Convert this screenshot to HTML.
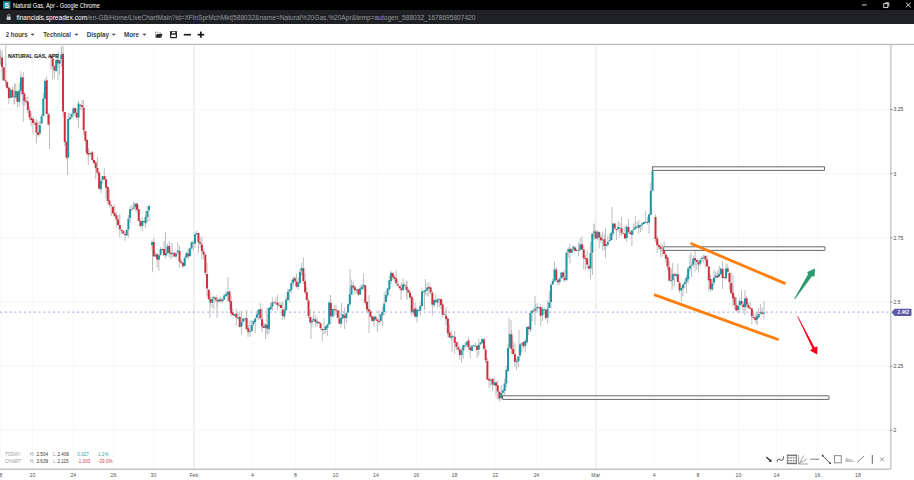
<!DOCTYPE html>
<html><head><meta charset="utf-8"><style>
html,body{margin:0;padding:0;width:914px;height:480px;overflow:hidden;background:#fff;font-family:"Liberation Sans",sans-serif}
#title{position:absolute;left:0;top:0;width:914px;height:10px;background:#000}
#addr{position:absolute;left:0;top:10px;width:914px;height:14.4px;background:#202124}
#tool{position:absolute;left:0;top:24px;width:914px;height:20px;background:#fff}
.t{position:absolute;white-space:nowrap}
svg{position:absolute;left:0;top:0}
</style></head><body>
<div id="title"></div>
<div id="addr"></div>
<div id="tool"></div>
<svg width="914" height="480" viewBox="0 0 914 480">
<rect x="3" y="1.3" width="7.5" height="7.6" fill="#1b8c9a"/>
<text x="6.75" y="7.8" font-family="Liberation Sans" font-weight="bold" font-size="7" fill="#fff" text-anchor="middle">S</text>
<text x="12.9" y="7.9" font-family="Liberation Sans" font-size="6.3" fill="#fff" textLength="86.9" lengthAdjust="spacingAndGlyphs">Natural Gas, Apr - Google Chrome</text>
<g fill="#e6e6e6"><rect x="861.9" y="4.5" width="4.8" height="0.9"/></g>
<g stroke="#e6e6e6" stroke-width="0.9" fill="none"><rect x="883.8" y="3.6" width="4" height="4"/><path d="M885.2 2.8h3.6v3.6"/><path d="M905.8 2.6l5 4.8M910.8 2.6l-5 4.8"/></g>
<g fill="#c8cacc"><rect x="6.7" y="16.6" width="4" height="3.5" rx="0.3"/><path d="M7.6 16.6v-1.1a1.1 1.1 0 0 1 2.2 0v1.1" stroke="#c8cacc" stroke-width="0.7" fill="none"/></g>
<text x="16.4" y="19.6" font-family="Liberation Sans" font-size="6.6" fill="#92979c"><tspan fill="#ffffff">financials.spreadex.com</tspan>/en-GB/Home/LiveChartMain?id=XFinSprMchMkt|588032&amp;name=Natural%20Gas,%20Apr&amp;temp=autogen_588032_1678695807420</text>
<g font-family="Liberation Sans" font-weight="bold" font-size="6.7" fill="#3d3d3d">
<text x="5.7" y="37" textLength="21.9" lengthAdjust="spacingAndGlyphs">2 hours</text><text x="43.3" y="37" textLength="27.6" lengthAdjust="spacingAndGlyphs">Technical</text><text x="86.7" y="37" textLength="22.3" lengthAdjust="spacingAndGlyphs">Display</text><text x="124" y="37" textLength="15" lengthAdjust="spacingAndGlyphs">More</text>
</g>
<g fill="#444"><path d="M30.5 33.8h4.2l-2.1 2z"/><path d="M74.3 33.8h4.2l-2.1 2z"/><path d="M111.6 33.8h4.2l-2.1 2z"/><path d="M142.3 33.8h4.2l-2.1 2z"/></g>
<path d="M155.6 37.4V32.1h2.2l0.7 0.8h2.5v1.1" fill="none" stroke="#8a8a8a" stroke-width="0.7"/>
<path d="M156.7 34.0h5.8l-1.3 3.7h-5.6z" fill="#262626"/>
<rect x="170" y="31" width="7" height="7.2" rx="0.9" fill="#262626"/>
<rect x="172" y="31.7" width="3.2" height="1.6" fill="#fff"/>
<rect x="171.2" y="34.7" width="4.6" height="2.3" fill="#fff"/>
<rect x="183.8" y="33.9" width="7.2" height="1.6" fill="#111"/>
<rect x="197.6" y="33.9" width="6.6" height="1.6" fill="#111"/><rect x="200.1" y="31.6" width="1.6" height="6.2" fill="#111"/>
<rect x="0" y="43.8" width="914" height="1.3" fill="#bababa"/>
<line x1="1" y1="45" x2="1" y2="469" stroke="#f8f8f8" stroke-width="1"/><line x1="32.5" y1="45" x2="32.5" y2="469" stroke="#f8f8f8" stroke-width="1"/><line x1="73.3" y1="45" x2="73.3" y2="469" stroke="#f8f8f8" stroke-width="1"/><line x1="113.5" y1="45" x2="113.5" y2="469" stroke="#f8f8f8" stroke-width="1"/><line x1="153.5" y1="45" x2="153.5" y2="469" stroke="#f8f8f8" stroke-width="1"/><line x1="193.9" y1="45" x2="193.9" y2="469" stroke="#eeeeee" stroke-width="1.8"/><line x1="252.5" y1="45" x2="252.5" y2="469" stroke="#f8f8f8" stroke-width="1"/><line x1="295.5" y1="45" x2="295.5" y2="469" stroke="#f8f8f8" stroke-width="1"/><line x1="335.5" y1="45" x2="335.5" y2="469" stroke="#f8f8f8" stroke-width="1"/><line x1="376" y1="45" x2="376" y2="469" stroke="#f8f8f8" stroke-width="1"/><line x1="416.3" y1="45" x2="416.3" y2="469" stroke="#f8f8f8" stroke-width="1"/><line x1="454.5" y1="45" x2="454.5" y2="469" stroke="#f8f8f8" stroke-width="1"/><line x1="495.3" y1="45" x2="495.3" y2="469" stroke="#f8f8f8" stroke-width="1"/><line x1="536.3" y1="45" x2="536.3" y2="469" stroke="#f8f8f8" stroke-width="1"/><line x1="595.8" y1="45" x2="595.8" y2="469" stroke="#eeeeee" stroke-width="1.8"/><line x1="654.3" y1="45" x2="654.3" y2="469" stroke="#f8f8f8" stroke-width="1"/><line x1="698" y1="45" x2="698" y2="469" stroke="#f8f8f8" stroke-width="1"/><line x1="738.4" y1="45" x2="738.4" y2="469" stroke="#f8f8f8" stroke-width="1"/><line x1="776.5" y1="45" x2="776.5" y2="469" stroke="#f8f8f8" stroke-width="1"/><line x1="817.5" y1="45" x2="817.5" y2="469" stroke="#f8f8f8" stroke-width="1"/><line x1="858" y1="45" x2="858" y2="469" stroke="#f8f8f8" stroke-width="1"/><line x1="0" y1="109.5" x2="890" y2="109.5" stroke="#f7f7f7" stroke-width="1.5"/><line x1="0" y1="173.7" x2="890" y2="173.7" stroke="#f7f7f7" stroke-width="1.5"/><line x1="0" y1="237.8" x2="890" y2="237.8" stroke="#f7f7f7" stroke-width="1.5"/><line x1="0" y1="302" x2="890" y2="302" stroke="#f7f7f7" stroke-width="1.5"/><line x1="0" y1="366.2" x2="890" y2="366.2" stroke="#f7f7f7" stroke-width="1.5"/><line x1="0" y1="430.3" x2="890" y2="430.3" stroke="#f7f7f7" stroke-width="1.5"/>
<line x1="0" y1="469.3" x2="890.5" y2="469.3" stroke="#c4c4c4" stroke-width="1.4"/>
<line x1="890.8" y1="44.5" x2="890.8" y2="469" stroke="#c2c2c2" stroke-width="1.3"/>
<g font-family="Liberation Sans" font-size="5.2" fill="#555"><text x="1" y="477" text-anchor="middle">8</text><text x="32.5" y="477" text-anchor="middle">20</text><text x="73.3" y="477" text-anchor="middle">24</text><text x="113.5" y="477" text-anchor="middle">26</text><text x="153.5" y="477" text-anchor="middle">30</text><text x="193.9" y="477" text-anchor="middle">Feb</text><text x="252.5" y="477" text-anchor="middle">4</text><text x="295.5" y="477" text-anchor="middle">8</text><text x="335.5" y="477" text-anchor="middle">10</text><text x="376" y="477" text-anchor="middle">14</text><text x="416.3" y="477" text-anchor="middle">16</text><text x="454.5" y="477" text-anchor="middle">18</text><text x="495.3" y="477" text-anchor="middle">22</text><text x="536.3" y="477" text-anchor="middle">24</text><text x="595.8" y="477" text-anchor="middle">Mar</text><text x="654.3" y="477" text-anchor="middle">4</text><text x="698" y="477" text-anchor="middle">8</text><text x="738.4" y="477" text-anchor="middle">10</text><text x="776.5" y="477" text-anchor="middle">14</text><text x="817.5" y="477" text-anchor="middle">16</text><text x="858" y="477" text-anchor="middle">18</text></g>
<g font-family="Liberation Sans" font-size="5" fill="#444"><line x1="890" y1="109.5" x2="893" y2="109.5" stroke="#777" stroke-width="0.6"/><text x="893.5" y="111.3">3.25</text><line x1="890" y1="173.7" x2="893" y2="173.7" stroke="#777" stroke-width="0.6"/><text x="893.5" y="175.5">3</text><line x1="890" y1="237.8" x2="893" y2="237.8" stroke="#777" stroke-width="0.6"/><text x="893.5" y="239.60000000000002">2.75</text><line x1="890" y1="302" x2="893" y2="302" stroke="#777" stroke-width="0.6"/><text x="893.5" y="303.8">2.5</text><line x1="890" y1="366.2" x2="893" y2="366.2" stroke="#777" stroke-width="0.6"/><text x="893.5" y="368.0">2.25</text><line x1="890" y1="430.3" x2="893" y2="430.3" stroke="#777" stroke-width="0.6"/><text x="893.5" y="432.1">2</text></g>
<line x1="0" y1="312.1" x2="890" y2="312.1" stroke="#b4b2e4" stroke-width="1.1" stroke-dasharray="2 2.817"/>
<path d="M891.5 312.3l3.2 -3.6h16a0.8 0.8 0 0 1 0.8 0.8v5.6a0.8 0.8 0 0 1 -0.8 0.8h-16z" fill="#5d5aa8"/>
<text x="897.6" y="314.4" font-family="Liberation Sans" font-weight="bold" font-size="4.6" fill="#fff">2.462</text>
<path d="M0.30 49.3V57.4M2.02 55.2V73.0M3.74 67.3V80.8M5.46 79.9V86.5M7.18 81.5V89.6M8.90 87.5V104.2M10.62 88.4V98.1M12.34 86.8V98.1M14.06 91.5V104.9M15.78 83.1V98.7M17.50 91.1V107.8M19.22 82.5V106.9M20.94 71.3V94.7M22.66 76.6V104.9M24.38 91.7V106.1M26.10 97.1V103.7M27.82 96.5V112.9M29.54 106.4V120.5M31.26 112.7V126.0M32.98 116.4V134.1M34.70 119.7V124.2M36.42 118.5V143.5M38.14 121.3V137.1M39.86 121.0V135.6M41.58 113.7V123.7M43.30 92.4V116.5M45.02 78.9V99.5M46.74 76.3V114.6M48.46 112.6V125.5M51.00 53.9V69.2M52.72 55.5V67.8M54.44 65.1V78.4M56.16 54.0V72.1M57.88 57.0V68.3M59.60 59.1V74.8M61.32 46.4V67.0M63.04 45.7V116.7M64.76 111.6V146.0M66.48 141.3V159.0M68.20 113.0V157.6M69.92 112.6V119.9M71.64 113.4V118.8M73.36 106.5V116.2M75.08 107.6V116.8M76.80 108.8V119.4M78.52 101.1V128.5M80.24 103.7V110.0M81.96 100.2V109.6M83.68 107.7V135.3M85.40 130.6V151.7M87.12 139.1V156.2M88.84 148.0V157.1M90.56 151.7V155.5M92.28 150.8V161.5M94.00 160.0V163.2M95.72 161.1V179.3M97.44 156.9V175.4M99.16 171.2V189.3M100.88 179.2V193.2M102.60 176.3V183.8M104.32 168.0V179.9M106.04 176.2V198.7M107.76 186.0V204.1M109.48 189.6V207.8M111.20 204.5V216.2M112.92 206.7V214.2M114.64 204.9V217.0M116.36 211.5V227.6M118.08 214.5V225.9M119.80 214.1V237.3M121.52 228.9V233.9M123.24 229.4V233.4M124.96 232.4V240.9M126.68 228.9V235.6M128.40 214.8V237.6M130.12 206.2V223.1M131.84 204.4V209.8M133.56 201.6V209.0M135.28 202.8V211.2M137.00 203.6V212.4M138.72 205.2V221.5M140.44 219.4V227.9M142.16 216.9V231.0M143.88 220.6V225.8M145.60 210.7V228.2M147.32 205.9V222.1M149.04 204.6V221.2M152.00 240.2V249.8M153.72 237.9V257.3M155.44 252.3V257.1M157.16 252.8V267.5M158.88 254.2V270.8M160.60 247.0V255.8M162.32 248.4V252.1M164.04 240.9V256.5M165.76 248.0V258.5M167.48 243.7V253.8M169.20 241.1V257.0M170.92 250.5V259.2M172.64 252.3V254.2M174.36 252.2V257.0M176.08 252.4V258.6M177.80 242.6V254.3M179.52 246.0V267.6M181.24 259.6V263.1M182.96 262.3V268.2M184.68 256.0V266.4M186.40 251.2V258.2M188.12 248.4V259.4M189.84 247.6V256.2M191.56 241.8V249.6M193.28 240.6V250.6M195.00 232.4V247.6M196.72 230.5V234.4M198.44 233.0V253.3M200.16 237.2V247.7M201.88 236.4V259.2M203.60 248.5V259.4M205.32 253.3V275.3M207.04 263.0V296.3M208.76 289.7V300.1M210.48 297.2V305.6M212.20 295.7V307.8M213.92 295.6V309.3M215.64 296.7V301.9M217.36 297.5V306.4M219.08 297.4V303.0M220.80 296.4V301.7M222.52 298.1V302.8M224.24 293.5V300.1M225.96 291.2V296.1M227.68 291.4V301.0M229.40 290.6V309.8M231.12 295.2V316.4M232.84 308.4V316.1M234.56 313.6V315.9M236.28 308.7V325.5M238.00 312.6V318.9M239.72 311.1V327.1M241.44 311.1V334.4M243.16 318.1V321.8M244.88 318.0V321.8M246.60 309.9V329.2M248.32 324.6V333.7M250.04 320.1V336.7M251.76 320.0V331.4M253.48 320.5V326.3M255.20 316.9V333.0M256.92 311.2V318.4M258.64 309.6V320.4M260.36 303.3V319.4M262.08 308.2V328.4M263.80 322.2V327.9M265.52 323.8V339.0M267.24 314.0V333.6M268.96 307.6V334.2M270.68 302.4V309.6M272.40 297.5V310.6M274.12 301.0V303.0M275.84 297.4V304.8M277.56 294.7V310.1M279.28 302.4V306.8M281.00 301.9V308.1M282.72 301.4V320.0M284.44 307.0V319.0M286.16 297.1V310.2M287.88 288.7V300.6M289.60 289.4V302.5M291.32 280.0V292.9M293.04 276.7V286.0M294.76 276.1V281.6M296.48 273.4V287.6M298.20 277.6V289.6M299.92 268.7V283.1M301.64 263.0V275.9M303.36 257.3V283.9M305.08 273.2V294.2M306.80 287.3V301.0M308.52 298.5V318.1M310.24 309.1V324.2M311.96 316.7V327.5M313.68 311.1V321.4M315.40 315.4V326.9M317.12 317.6V326.2M318.84 321.4V324.3M320.56 322.0V330.4M322.28 328.7V340.9M324.00 318.3V334.5M325.72 326.2V333.8M327.44 323.4V335.7M329.16 301.0V324.9M330.88 300.0V324.1M332.60 308.9V317.6M334.32 305.1V315.8M336.04 304.8V314.6M337.76 310.0V319.3M339.48 310.4V324.3M341.20 309.7V327.5M342.92 314.2V319.2M344.64 307.6V329.0M346.36 311.3V323.3M348.08 303.8V313.1M349.80 288.2V306.1M351.52 279.5V294.5M353.24 281.6V289.4M354.96 285.7V294.2M356.68 289.6V293.1M358.40 289.1V296.0M360.12 285.3V295.0M361.84 284.2V290.7M363.56 273.7V289.8M365.28 285.2V304.7M367.00 300.5V313.3M368.72 307.7V312.9M370.44 309.5V317.3M372.16 315.6V322.3M373.88 316.5V326.9M375.60 315.5V319.4M377.32 319.4V331.9M379.04 310.1V324.7M380.76 313.4V323.2M382.48 307.0V326.2M384.20 292.5V315.1M385.92 291.1V303.0M387.64 288.1V297.8M389.36 275.2V290.7M391.08 270.8V283.9M392.80 271.8V279.8M394.52 274.6V281.6M396.24 270.4V286.3M397.96 281.2V285.6M399.68 286.1V290.0M401.40 282.2V292.4M403.12 278.2V290.3M404.84 282.7V287.8M406.56 280.7V297.9M408.28 288.4V292.9M410.00 289.6V299.3M411.72 295.7V315.7M413.44 298.5V314.7M415.16 302.6V317.9M416.88 307.3V322.8M418.60 308.9V311.5M420.32 302.1V315.4M422.04 288.4V306.5M423.76 290.4V292.8M425.48 279.0V295.3M427.20 283.4V296.3M428.92 282.1V296.6M430.64 285.6V294.2M432.36 290.7V315.6M434.08 299.0V306.8M435.80 294.5V303.4M437.52 297.9V307.4M439.24 298.5V307.2M440.96 299.0V308.9M442.68 300.6V317.2M444.40 313.7V314.9M446.12 309.7V320.4M447.84 317.6V337.3M449.56 324.6V337.5M451.28 330.3V340.5M453.00 335.3V336.9M454.72 330.7V353.7M456.44 342.3V349.7M458.16 341.5V351.4M459.88 345.5V359.9M461.60 347.7V362.9M463.32 344.6V358.5M465.04 342.5V347.9M466.76 341.8V347.0M468.48 337.5V350.1M470.20 344.8V358.0M471.92 344.7V350.9M473.64 344.8V346.8M475.36 341.8V347.0M477.08 344.9V358.0M478.80 338.7V355.5M480.52 341.8V345.3M482.24 337.9V343.6M483.96 337.9V350.6M485.68 345.7V363.0M487.40 357.9V380.0M489.12 378.0V388.4M490.84 376.9V386.0M492.56 378.0V390.5M494.28 377.4V386.1M496.00 381.1V396.7M497.72 380.3V399.4M499.44 391.2V401.6M501.16 385.1V400.1M502.88 389.0V395.7M504.60 378.5V394.9M506.32 365.9V387.5M508.04 343.8V371.9M509.76 333.5V348.3M511.48 330.5V354.0M513.20 341.0V354.8M514.92 343.3V366.7M516.64 358.3V370.2M518.36 356.1V367.2M520.08 343.0V356.5M521.80 342.4V352.4M523.52 341.6V348.7M525.24 338.6V351.9M526.96 325.9V344.2M528.68 325.4V335.0M530.40 310.6V332.3M532.12 309.8V321.2M533.84 307.5V312.0M535.56 303.7V310.6M537.28 303.1V313.2M539.00 306.5V309.3M540.72 304.3V326.7M542.44 307.0V321.2M544.16 308.4V313.9M545.88 309.8V319.9M547.60 300.5V323.5M549.32 291.4V308.0M551.04 283.0V308.0M552.76 278.5V284.6M554.48 261.5V281.4M556.20 267.0V282.0M557.92 278.8V285.3M559.64 277.3V284.4M561.36 271.6V278.3M563.08 271.4V281.0M564.80 269.4V282.0M566.52 252.4V280.2M568.24 246.7V257.8M569.96 243.7V263.7M571.68 249.0V252.7M573.40 245.4V250.6M575.12 247.0V250.9M576.84 248.8V251.4M578.56 242.3V255.8M580.28 238.4V250.8M582.00 236.3V249.5M583.72 245.5V269.3M585.44 255.1V269.6M587.16 250.4V268.4M588.88 263.9V270.1M590.60 242.0V279.4M592.32 233.4V254.8M594.04 223.5V237.7M595.76 229.9V238.9M597.48 230.2V239.8M599.20 230.9V248.6M600.92 234.4V242.7M602.64 231.5V250.9M604.36 234.3V249.9M606.08 244.3V246.1M607.80 235.9V246.7M609.52 234.3V241.8M611.24 232.8V240.2M612.96 222.7V235.8M614.68 223.5V228.4M616.40 229.1V240.1M618.12 220.9V231.7M619.84 222.8V236.4M621.56 217.3V235.7M623.28 232.4V233.6M625.00 225.8V239.2M626.72 224.8V241.9M628.44 218.9V233.6M630.16 230.6V233.9M631.88 230.6V246.1M633.60 223.2V234.3M635.32 215.8V229.3M637.04 221.7V227.7M638.76 220.0V234.0M640.48 224.6V232.2M642.20 223.2V229.8M643.92 222.0V224.1M645.64 210.8V223.3M647.36 216.7V224.7M649.08 212.9V233.5M650.80 182.7V215.3M652.52 165.7V191.3M655.50 214.1V242.1M657.22 235.5V253.2M658.94 243.3V249.9M660.66 243.5V257.1M662.38 244.7V256.5M664.10 241.5V254.1M665.82 253.5V262.4M667.54 256.5V270.5M669.26 260.9V281.9M670.98 269.2V282.3M672.70 262.9V286.2M674.42 272.7V286.5M676.14 273.2V277.6M677.86 263.6V282.4M679.58 281.2V293.2M681.30 285.9V301.5M683.02 284.0V296.3M684.74 279.2V288.3M686.46 274.8V293.4M688.18 266.5V283.3M689.90 255.1V271.6M691.62 262.3V277.1M693.34 255.7V266.4M695.06 250.0V271.3M696.78 259.1V269.9M698.50 260.3V272.7M700.22 258.4V266.5M701.94 255.9V262.1M703.66 254.2V262.9M705.38 254.9V267.5M707.10 255.6V266.8M708.82 265.5V291.3M710.54 273.9V291.4M712.26 278.4V290.8M713.98 269.7V285.1M715.70 271.6V279.1M717.42 270.6V278.1M719.14 265.8V276.8M720.86 268.4V274.4M722.58 261.1V289.0M724.30 276.8V279.1M726.02 263.5V279.7M727.74 264.4V273.3M729.46 272.5V290.2M731.18 272.1V294.6M732.90 284.8V306.2M734.62 294.3V309.1M736.34 297.1V311.5M738.06 304.6V311.9M739.78 297.9V313.2M741.50 289.9V305.7M743.22 301.9V311.0M744.94 297.9V315.1M746.66 296.2V307.7M748.38 302.6V308.7M750.10 301.6V308.7M751.82 307.9V324.3M753.54 311.1V319.0M755.26 313.7V322.5M756.98 313.2V324.6M758.70 308.1V317.8M760.42 304.0V314.9M762.14 307.8V314.6M763.86 312.0V318.5M5.80 45.7V82.5M2.20 50.7V80.7M0.50 51.0V65.0M23.30 72.0V122.0M14.50 84.0V104.0M49.50 114.0V149.0M52.70 63.6V80.0M58.00 51.0V80.0M61.50 46.5V60.0M67.50 119.0V175.0M83.50 100.0V130.0M88.30 150.0V165.0M152.50 245.0V272.0M165.50 232.0V258.0M172.00 243.0V258.0M210.00 293.0V318.0M217.00 295.0V318.0M228.00 277.0V300.0M248.00 327.0V337.0M262.00 310.0V332.0M267.00 308.0V335.0M311.00 319.0V339.0M330.50 295.0V317.0M341.50 303.0V320.0M350.00 269.0V300.0M369.00 295.0V333.0M401.00 285.0V300.0M407.00 281.0V300.0M424.50 290.0V310.0M446.00 307.0V325.0M452.00 334.0V352.0M509.00 318.0V348.0M511.00 320.0V350.0M519.00 330.0V360.0M535.00 296.0V325.0M550.00 290.0V303.0M592.50 255.0V275.0M594.00 224.0V240.0M605.50 228.0V258.0M612.00 207.0V240.0M672.00 268.0V290.0M691.00 252.0V270.0M733.00 275.0V300.0M745.00 290.0V310.0M764.00 301.0V313.0M757.00 312.0V325.0" stroke="#bcbfc0" stroke-width="1" fill="none"/><path d="M-0.70 57.3h2.0v0.8h-2.0zM1.02 57.7h2.0v9.3h-2.0zM2.74 67.3h2.0v13.0h-2.0zM4.46 80.4h2.0v1.1h-2.0zM6.18 82.0h2.0v6.1h-2.0zM7.90 87.5h2.0v10.7h-2.0zM11.34 89.8h2.0v7.3h-2.0zM16.50 91.6h2.0v10.1h-2.0zM21.66 77.6h2.0v16.3h-2.0zM23.38 93.7h2.0v7.4h-2.0zM25.10 101.1h2.0v0.8h-2.0zM26.82 101.5h2.0v8.4h-2.0zM28.54 110.4h2.0v7.1h-2.0zM30.26 117.7h2.0v2.3h-2.0zM31.98 118.9h2.0v4.2h-2.0zM33.70 123.7h2.0v0.8h-2.0zM35.42 122.5h2.0v10.0h-2.0zM37.14 132.3h2.0v2.8h-2.0zM45.74 80.3h2.0v33.8h-2.0zM47.46 114.6h2.0v9.8h-2.0zM50.00 55.9h2.0v2.3h-2.0zM51.72 58.5h2.0v7.8h-2.0zM53.44 66.6h2.0v3.8h-2.0zM56.88 60.0h2.0v3.2h-2.0zM62.04 53.7h2.0v57.9h-2.0zM63.76 112.1h2.0v29.9h-2.0zM65.48 141.8h2.0v15.7h-2.0zM74.08 108.1h2.0v4.7h-2.0zM75.80 112.8h2.0v4.6h-2.0zM79.24 104.7h2.0v0.8h-2.0zM80.96 105.2h2.0v1.8h-2.0zM82.68 107.7h2.0v22.6h-2.0zM84.40 131.1h2.0v9.6h-2.0zM86.12 140.1h2.0v13.6h-2.0zM87.84 153.0h2.0v1.6h-2.0zM91.28 152.3h2.0v7.7h-2.0zM93.00 160.0h2.0v3.3h-2.0zM94.72 162.6h2.0v5.7h-2.0zM96.44 167.9h2.0v4.9h-2.0zM98.16 172.7h2.0v16.1h-2.0zM103.32 176.0h2.0v3.5h-2.0zM105.04 179.2h2.0v8.5h-2.0zM106.76 187.0h2.0v14.1h-2.0zM108.48 200.6h2.0v4.2h-2.0zM110.20 205.0h2.0v0.8h-2.0zM111.92 206.7h2.0v6.6h-2.0zM113.64 212.9h2.0v3.1h-2.0zM115.36 215.5h2.0v4.1h-2.0zM117.08 219.5h2.0v5.4h-2.0zM118.80 225.1h2.0v4.2h-2.0zM120.52 229.9h2.0v1.0h-2.0zM122.24 230.9h2.0v2.5h-2.0zM123.96 233.9h2.0v1.0h-2.0zM130.84 209.4h2.0v0.8h-2.0zM136.00 203.6h2.0v6.2h-2.0zM137.72 209.2h2.0v11.8h-2.0zM139.44 220.9h2.0v5.0h-2.0zM142.88 221.1h2.0v0.8h-2.0zM152.72 241.9h2.0v14.4h-2.0zM156.16 254.3h2.0v5.2h-2.0zM161.32 248.9h2.0v0.8h-2.0zM163.04 248.9h2.0v6.1h-2.0zM168.20 246.1h2.0v6.8h-2.0zM169.92 253.0h2.0v1.2h-2.0zM173.36 252.7h2.0v3.7h-2.0zM178.52 251.0h2.0v10.5h-2.0zM180.24 261.6h2.0v1.6h-2.0zM181.96 262.8h2.0v3.4h-2.0zM187.12 253.4h2.0v3.0h-2.0zM197.44 233.0h2.0v9.2h-2.0zM199.16 242.2h2.0v1.5h-2.0zM200.88 244.4h2.0v6.8h-2.0zM202.60 251.5h2.0v2.9h-2.0zM204.32 254.8h2.0v18.0h-2.0zM206.04 274.0h2.0v14.4h-2.0zM207.76 289.7h2.0v9.4h-2.0zM209.48 299.2h2.0v3.4h-2.0zM214.64 297.7h2.0v2.1h-2.0zM216.36 300.0h2.0v1.3h-2.0zM219.80 299.4h2.0v1.8h-2.0zM228.40 291.6h2.0v10.2h-2.0zM230.12 301.2h2.0v12.2h-2.0zM231.84 312.4h2.0v2.7h-2.0zM235.28 313.7h2.0v3.8h-2.0zM238.72 317.1h2.0v10.0h-2.0zM245.60 317.9h2.0v11.4h-2.0zM247.32 328.6h2.0v3.1h-2.0zM259.36 309.3h2.0v9.1h-2.0zM261.08 319.2h2.0v7.2h-2.0zM262.80 326.2h2.0v1.7h-2.0zM266.24 325.0h2.0v3.6h-2.0zM273.12 302.5h2.0v0.8h-2.0zM274.84 302.4h2.0v0.8h-2.0zM276.56 302.7h2.0v2.4h-2.0zM280.00 304.9h2.0v3.2h-2.0zM281.72 309.4h2.0v6.6h-2.0zM293.76 278.1h2.0v3.1h-2.0zM295.48 281.4h2.0v5.2h-2.0zM302.36 268.3h2.0v12.6h-2.0zM304.08 281.2h2.0v11.0h-2.0zM305.80 292.3h2.0v7.7h-2.0zM307.52 300.5h2.0v15.5h-2.0zM309.24 317.1h2.0v5.1h-2.0zM314.40 319.4h2.0v2.5h-2.0zM317.84 321.9h2.0v1.4h-2.0zM319.56 323.5h2.0v4.4h-2.0zM321.28 328.7h2.0v1.2h-2.0zM329.88 303.0h2.0v13.1h-2.0zM333.32 309.1h2.0v0.8h-2.0zM335.04 309.8h2.0v0.8h-2.0zM336.76 310.5h2.0v7.3h-2.0zM338.48 318.4h2.0v5.4h-2.0zM343.64 315.6h2.0v2.4h-2.0zM352.24 285.6h2.0v1.9h-2.0zM353.96 287.2h2.0v3.0h-2.0zM357.40 289.1h2.0v5.3h-2.0zM364.28 285.2h2.0v17.5h-2.0zM366.00 302.0h2.0v7.4h-2.0zM367.72 309.2h2.0v2.2h-2.0zM369.44 311.5h2.0v5.3h-2.0zM371.16 316.6h2.0v4.2h-2.0zM374.60 317.0h2.0v2.5h-2.0zM376.32 319.4h2.0v1.5h-2.0zM378.04 321.1h2.0v1.0h-2.0zM391.80 273.3h2.0v4.0h-2.0zM393.52 277.1h2.0v2.0h-2.0zM395.24 278.4h2.0v4.9h-2.0zM396.96 284.2h2.0v1.4h-2.0zM398.68 286.1h2.0v1.9h-2.0zM400.40 288.2h2.0v1.7h-2.0zM403.84 285.2h2.0v0.8h-2.0zM405.56 286.7h2.0v3.3h-2.0zM407.28 289.9h2.0v2.5h-2.0zM409.00 292.6h2.0v4.7h-2.0zM410.72 296.7h2.0v15.0h-2.0zM414.16 308.6h2.0v7.8h-2.0zM427.92 287.1h2.0v1.5h-2.0zM429.64 287.6h2.0v4.6h-2.0zM431.36 292.7h2.0v11.9h-2.0zM434.80 300.5h2.0v1.4h-2.0zM439.96 299.0h2.0v5.9h-2.0zM441.68 304.6h2.0v10.1h-2.0zM445.12 315.7h2.0v3.2h-2.0zM446.84 318.6h2.0v14.6h-2.0zM448.56 332.6h2.0v4.9h-2.0zM453.72 336.7h2.0v6.0h-2.0zM455.44 342.3h2.0v4.8h-2.0zM457.16 347.5h2.0v1.9h-2.0zM458.88 349.5h2.0v5.4h-2.0zM467.48 340.5h2.0v6.6h-2.0zM469.20 347.3h2.0v2.7h-2.0zM476.08 345.9h2.0v4.1h-2.0zM482.96 339.4h2.0v9.3h-2.0zM484.68 349.7h2.0v10.8h-2.0zM486.40 360.9h2.0v18.6h-2.0zM488.12 379.0h2.0v1.4h-2.0zM491.56 379.0h2.0v5.5h-2.0zM495.00 382.6h2.0v3.1h-2.0zM496.72 385.3h2.0v6.1h-2.0zM498.44 391.7h2.0v6.9h-2.0zM510.48 334.5h2.0v14.5h-2.0zM512.20 349.0h2.0v4.9h-2.0zM513.92 354.3h2.0v7.4h-2.0zM522.52 342.1h2.0v4.1h-2.0zM527.68 326.9h2.0v2.1h-2.0zM532.84 310.5h2.0v0.8h-2.0zM538.00 307.0h2.0v0.8h-2.0zM539.72 307.3h2.0v8.4h-2.0zM544.88 309.8h2.0v8.1h-2.0zM555.20 269.5h2.0v10.5h-2.0zM556.92 280.3h2.0v2.0h-2.0zM562.08 272.4h2.0v4.6h-2.0zM563.80 277.4h2.0v2.5h-2.0zM568.96 248.7h2.0v4.1h-2.0zM574.12 247.5h2.0v3.4h-2.0zM575.84 250.3h2.0v0.8h-2.0zM581.00 244.3h2.0v5.2h-2.0zM582.72 249.5h2.0v8.8h-2.0zM584.44 258.1h2.0v0.8h-2.0zM586.16 258.4h2.0v6.0h-2.0zM587.88 265.9h2.0v2.7h-2.0zM594.76 231.4h2.0v7.0h-2.0zM598.20 231.9h2.0v5.7h-2.0zM599.92 237.4h2.0v2.8h-2.0zM603.36 239.3h2.0v6.6h-2.0zM613.68 223.5h2.0v4.9h-2.0zM615.40 229.1h2.0v0.8h-2.0zM620.56 228.3h2.0v4.4h-2.0zM622.28 232.9h2.0v0.8h-2.0zM624.00 233.8h2.0v4.8h-2.0zM627.44 226.9h2.0v5.2h-2.0zM629.16 232.6h2.0v1.3h-2.0zM636.04 226.7h2.0v0.8h-2.0zM646.36 221.7h2.0v1.0h-2.0zM654.50 217.1h2.0v22.0h-2.0zM656.22 238.5h2.0v6.8h-2.0zM657.94 245.3h2.0v1.6h-2.0zM659.66 246.5h2.0v2.6h-2.0zM661.38 249.7h2.0v0.8h-2.0zM663.10 249.5h2.0v4.6h-2.0zM664.82 254.5h2.0v3.9h-2.0zM666.54 257.5h2.0v9.0h-2.0zM668.26 266.9h2.0v13.5h-2.0zM673.42 274.2h2.0v1.3h-2.0zM676.86 274.6h2.0v7.4h-2.0zM678.58 282.7h2.0v7.5h-2.0zM694.06 258.0h2.0v2.3h-2.0zM695.78 260.1h2.0v1.8h-2.0zM697.50 262.3h2.0v2.3h-2.0zM704.38 255.9h2.0v3.6h-2.0zM706.10 259.6h2.0v6.7h-2.0zM707.82 266.5h2.0v13.8h-2.0zM709.54 278.9h2.0v10.0h-2.0zM716.42 275.6h2.0v2.1h-2.0zM721.58 269.1h2.0v8.9h-2.0zM723.30 277.3h2.0v0.8h-2.0zM726.74 268.4h2.0v3.3h-2.0zM728.46 273.0h2.0v9.3h-2.0zM730.18 283.1h2.0v10.0h-2.0zM731.90 292.8h2.0v5.5h-2.0zM733.62 297.3h2.0v7.8h-2.0zM735.34 305.1h2.0v5.4h-2.0zM740.50 300.9h2.0v2.8h-2.0zM742.22 304.4h2.0v2.6h-2.0zM745.66 298.2h2.0v6.5h-2.0zM747.38 305.1h2.0v2.6h-2.0zM749.10 307.6h2.0v1.1h-2.0zM750.82 308.4h2.0v7.9h-2.0zM752.54 317.1h2.0v0.9h-2.0zM754.26 317.7h2.0v2.3h-2.0zM761.14 312.8h2.0v1.3h-2.0z" fill="#cf2f3d"/><path d="M9.62 89.9h2.0v8.2h-2.0zM13.06 96.5h2.0v0.8h-2.0zM14.78 91.1h2.0v6.1h-2.0zM18.22 90.5h2.0v11.5h-2.0zM19.94 77.3h2.0v13.4h-2.0zM38.86 125.0h2.0v8.6h-2.0zM40.58 116.2h2.0v7.6h-2.0zM42.30 98.4h2.0v17.5h-2.0zM44.02 80.9h2.0v17.6h-2.0zM55.16 60.0h2.0v11.1h-2.0zM58.60 60.1h2.0v3.7h-2.0zM60.32 54.4h2.0v4.6h-2.0zM67.20 119.0h2.0v38.6h-2.0zM68.92 117.6h2.0v1.8h-2.0zM70.64 113.9h2.0v3.4h-2.0zM72.36 108.5h2.0v5.2h-2.0zM77.52 103.6h2.0v13.9h-2.0zM89.56 153.2h2.0v0.8h-2.0zM99.88 180.7h2.0v8.5h-2.0zM101.60 176.3h2.0v3.5h-2.0zM125.68 229.9h2.0v5.7h-2.0zM127.40 218.8h2.0v10.8h-2.0zM129.12 209.2h2.0v8.9h-2.0zM132.56 207.6h2.0v1.5h-2.0zM134.28 203.8h2.0v3.4h-2.0zM141.16 220.9h2.0v5.1h-2.0zM144.60 216.7h2.0v6.6h-2.0zM146.32 210.9h2.0v6.2h-2.0zM148.04 206.1h2.0v4.1h-2.0zM151.00 242.2h2.0v2.7h-2.0zM154.44 254.8h2.0v1.8h-2.0zM157.88 255.2h2.0v4.5h-2.0zM159.60 249.0h2.0v5.8h-2.0zM164.76 253.0h2.0v2.5h-2.0zM166.48 246.2h2.0v7.1h-2.0zM171.64 252.8h2.0v0.9h-2.0zM175.08 253.4h2.0v3.2h-2.0zM176.80 250.6h2.0v1.7h-2.0zM183.68 258.0h2.0v8.0h-2.0zM185.40 253.2h2.0v4.5h-2.0zM188.84 248.6h2.0v7.6h-2.0zM190.56 242.3h2.0v6.3h-2.0zM192.28 242.6h2.0v0.8h-2.0zM194.00 234.4h2.0v9.1h-2.0zM195.72 233.0h2.0v1.4h-2.0zM211.20 298.7h2.0v4.1h-2.0zM212.92 297.1h2.0v1.2h-2.0zM218.08 299.4h2.0v2.1h-2.0zM221.52 299.6h2.0v1.6h-2.0zM223.24 295.5h2.0v4.1h-2.0zM224.96 294.2h2.0v2.0h-2.0zM226.68 291.9h2.0v3.0h-2.0zM233.56 314.6h2.0v1.3h-2.0zM237.00 317.6h2.0v0.8h-2.0zM240.44 322.1h2.0v4.3h-2.0zM242.16 318.6h2.0v3.2h-2.0zM243.88 318.5h2.0v0.8h-2.0zM249.04 331.1h2.0v0.8h-2.0zM250.76 325.0h2.0v5.9h-2.0zM252.48 321.0h2.0v3.3h-2.0zM254.20 318.4h2.0v3.6h-2.0zM255.92 314.2h2.0v3.6h-2.0zM257.64 309.6h2.0v4.8h-2.0zM264.52 324.3h2.0v3.7h-2.0zM267.96 308.1h2.0v21.1h-2.0zM269.68 306.4h2.0v3.2h-2.0zM271.40 302.5h2.0v4.1h-2.0zM278.28 304.9h2.0v0.8h-2.0zM283.44 310.0h2.0v6.6h-2.0zM285.16 299.6h2.0v10.6h-2.0zM286.88 291.7h2.0v8.4h-2.0zM288.60 289.4h2.0v2.2h-2.0zM290.32 283.0h2.0v7.0h-2.0zM292.04 279.2h2.0v3.7h-2.0zM297.20 282.6h2.0v4.5h-2.0zM298.92 271.7h2.0v11.5h-2.0zM300.64 268.0h2.0v2.9h-2.0zM310.96 320.7h2.0v1.8h-2.0zM312.68 319.1h2.0v1.3h-2.0zM316.12 321.6h2.0v1.6h-2.0zM323.00 329.3h2.0v0.8h-2.0zM324.72 326.2h2.0v3.6h-2.0zM326.44 324.4h2.0v3.3h-2.0zM328.16 302.5h2.0v21.9h-2.0zM331.60 308.9h2.0v7.7h-2.0zM340.20 317.7h2.0v5.8h-2.0zM341.92 314.2h2.0v4.0h-2.0zM345.36 313.3h2.0v5.0h-2.0zM347.08 304.3h2.0v8.2h-2.0zM348.80 294.2h2.0v10.4h-2.0zM350.52 285.5h2.0v9.0h-2.0zM355.68 289.6h2.0v0.8h-2.0zM359.12 288.3h2.0v6.2h-2.0zM360.84 286.7h2.0v2.4h-2.0zM362.56 284.7h2.0v2.1h-2.0zM372.88 316.5h2.0v4.4h-2.0zM379.76 314.4h2.0v6.3h-2.0zM381.48 312.0h2.0v3.2h-2.0zM383.20 303.5h2.0v8.6h-2.0zM384.92 295.1h2.0v6.9h-2.0zM386.64 288.6h2.0v6.7h-2.0zM388.36 280.2h2.0v9.0h-2.0zM390.08 272.8h2.0v8.1h-2.0zM402.12 284.2h2.0v6.1h-2.0zM412.44 309.5h2.0v3.2h-2.0zM415.88 309.8h2.0v7.0h-2.0zM417.60 309.9h2.0v0.8h-2.0zM419.32 306.1h2.0v4.3h-2.0zM421.04 291.4h2.0v14.6h-2.0zM422.76 290.9h2.0v0.8h-2.0zM424.48 290.0h2.0v1.3h-2.0zM426.20 287.4h2.0v2.9h-2.0zM433.08 300.0h2.0v5.3h-2.0zM436.52 299.4h2.0v3.1h-2.0zM438.24 299.0h2.0v0.8h-2.0zM443.40 314.2h2.0v0.8h-2.0zM450.28 336.3h2.0v1.7h-2.0zM452.00 336.3h2.0v0.8h-2.0zM460.60 350.7h2.0v4.2h-2.0zM462.32 345.1h2.0v5.4h-2.0zM464.04 345.5h2.0v0.8h-2.0zM465.76 341.8h2.0v3.2h-2.0zM470.92 346.2h2.0v4.7h-2.0zM472.64 345.3h2.0v1.0h-2.0zM474.36 345.8h2.0v0.8h-2.0zM477.80 344.7h2.0v4.8h-2.0zM479.52 342.8h2.0v1.5h-2.0zM481.24 338.9h2.0v4.2h-2.0zM489.84 379.9h2.0v0.8h-2.0zM493.28 382.4h2.0v2.7h-2.0zM500.16 393.1h2.0v5.0h-2.0zM501.88 390.5h2.0v2.2h-2.0zM503.60 383.5h2.0v7.4h-2.0zM505.32 369.9h2.0v13.6h-2.0zM507.04 347.8h2.0v23.1h-2.0zM508.76 334.0h2.0v13.2h-2.0zM515.64 361.3h2.0v0.9h-2.0zM517.36 356.6h2.0v4.6h-2.0zM519.08 344.5h2.0v11.0h-2.0zM520.80 343.4h2.0v1.0h-2.0zM524.24 341.1h2.0v4.7h-2.0zM525.96 326.9h2.0v15.3h-2.0zM529.40 313.1h2.0v16.7h-2.0zM531.12 310.8h2.0v2.3h-2.0zM534.56 308.7h2.0v1.9h-2.0zM536.28 307.1h2.0v1.1h-2.0zM541.44 309.5h2.0v5.7h-2.0zM543.16 308.9h2.0v1.0h-2.0zM546.60 308.5h2.0v9.0h-2.0zM548.32 302.4h2.0v5.6h-2.0zM550.04 285.0h2.0v16.9h-2.0zM551.76 281.0h2.0v3.6h-2.0zM553.48 269.5h2.0v11.8h-2.0zM558.64 278.8h2.0v3.1h-2.0zM560.36 272.6h2.0v5.8h-2.0zM565.52 252.4h2.0v27.8h-2.0zM567.24 249.2h2.0v2.6h-2.0zM570.68 249.0h2.0v3.7h-2.0zM572.40 246.4h2.0v2.7h-2.0zM577.56 250.3h2.0v0.8h-2.0zM579.28 244.4h2.0v5.5h-2.0zM589.60 253.0h2.0v15.4h-2.0zM591.32 233.4h2.0v19.4h-2.0zM593.04 231.5h2.0v1.2h-2.0zM596.48 232.2h2.0v6.1h-2.0zM601.64 239.5h2.0v0.8h-2.0zM605.08 244.3h2.0v1.8h-2.0zM606.80 241.9h2.0v2.8h-2.0zM608.52 240.3h2.0v1.0h-2.0zM610.24 232.8h2.0v7.4h-2.0zM611.96 223.7h2.0v9.7h-2.0zM617.12 226.9h2.0v2.2h-2.0zM618.84 227.8h2.0v0.8h-2.0zM625.72 226.8h2.0v11.1h-2.0zM630.88 230.6h2.0v4.5h-2.0zM632.60 229.2h2.0v0.8h-2.0zM634.32 226.8h2.0v2.5h-2.0zM637.76 225.0h2.0v3.0h-2.0zM639.48 225.1h2.0v1.1h-2.0zM641.20 223.2h2.0v1.6h-2.0zM642.92 222.0h2.0v2.1h-2.0zM644.64 221.8h2.0v0.8h-2.0zM648.08 214.4h2.0v8.1h-2.0zM649.80 190.7h2.0v24.1h-2.0zM651.52 170.7h2.0v20.1h-2.0zM669.98 280.2h2.0v0.8h-2.0zM671.70 273.9h2.0v6.3h-2.0zM675.14 274.2h2.0v1.9h-2.0zM680.30 287.9h2.0v2.6h-2.0zM682.02 284.5h2.0v3.8h-2.0zM683.74 282.2h2.0v2.0h-2.0zM685.46 277.8h2.0v4.5h-2.0zM687.18 268.5h2.0v10.8h-2.0zM688.90 266.1h2.0v2.5h-2.0zM690.62 265.3h2.0v0.8h-2.0zM692.34 258.7h2.0v6.1h-2.0zM699.22 259.9h2.0v3.6h-2.0zM700.94 257.9h2.0v1.2h-2.0zM702.66 257.2h2.0v0.8h-2.0zM711.26 283.4h2.0v6.0h-2.0zM712.98 277.7h2.0v5.0h-2.0zM714.70 275.6h2.0v2.0h-2.0zM718.14 273.8h2.0v3.0h-2.0zM719.86 268.4h2.0v5.9h-2.0zM725.02 268.5h2.0v9.7h-2.0zM737.06 306.1h2.0v3.8h-2.0zM738.78 300.9h2.0v4.3h-2.0zM743.94 298.4h2.0v8.6h-2.0zM755.98 316.2h2.0v3.4h-2.0zM757.70 314.1h2.0v3.3h-2.0zM759.42 312.0h2.0v1.0h-2.0zM762.86 312.5h2.0v1.0h-2.0z" fill="#1d95a2"/>
<text x="7.9" y="57.9" font-family="Liberation Sans" font-weight="bold" font-size="5.6" fill="#333" stroke="#333" stroke-width="0.18" textLength="51" lengthAdjust="spacingAndGlyphs">NATURAL GAS, APR</text>
<g fill="#fff" stroke="#555" stroke-width="0.9">
<rect x="652.5" y="166.8" width="172" height="3.6" rx="0.25"/>
<rect x="663.7" y="246.8" width="161.3" height="3.6" rx="0.25"/>
<rect x="502.5" y="395.8" width="326.5" height="3.6" rx="0.25"/>
</g>
<g stroke="#ff7f0e" stroke-width="2.8" stroke-linecap="butt">
<line x1="690.5" y1="243.3" x2="785.5" y2="283.6"/>
<line x1="654" y1="294.6" x2="778.8" y2="339.8"/>
</g>
<path d="M794.2 298.8L807.9 274.5L807.3 272L815 268.4L814.6 276.6L812 276.2L794.9 299.2z" fill="#2e9a70"/>
<path d="M797.8 316L814.5 347.3L817.5 346.4L817.1 354.6L810 350.5L812.4 348.5L797.3 316.4z" fill="#fb0019"/>
<g>
<path d="M766.3 457.1L770.2 460.6" stroke="#333" stroke-width="1.3"/><path d="M771.7 462.1l-3.2-0.6l2.6-2.6z" fill="#333"/>
<path d="M777.4 461.8c-0.6-1.6 0.2-2.6 1.6-2.6c1.6 0 1.4 1.6 3 1.2c1.2-0.3 1.4-2.4 1.6-4" fill="none" stroke="#333" stroke-width="0.9"/>
<g fill="#777"><rect x="786.9" y="454.6" width="9.9" height="1.5"/><rect x="786.9" y="462.6" width="9.9" height="1.6"/><rect x="786.9" y="454.6" width="0.9" height="9.6"/><rect x="795.9" y="454.6" width="0.9" height="9.6"/>
<path d="M787.8 457.9h9M787.8 460.6h9" stroke="#777" stroke-width="1.2" stroke-dasharray="1.6 0.9"/></g>
<g stroke="#888" stroke-width="0.8" fill="none"><path d="M798.6 455v9h9.3"/><path d="M799.4 463.4L803.8 455.6M799.4 463.4L806.9 458.9"/></g>
<path d="M810.2 459.2h9.1" stroke="#7d7d7d" stroke-width="1"/>
<path d="M822.7 455.7L830 463.2" stroke="#333" stroke-width="0.8"/><circle cx="822.7" cy="455.7" r="0.9" fill="#333"/><circle cx="830" cy="463.2" r="0.9" fill="#333"/>
<rect x="834.5" y="455.7" width="6.7" height="7.1" fill="none" stroke="#7d7d7d" stroke-width="0.9"/>
<text x="845.3" y="460.7" font-family="Liberation Sans" font-size="4" fill="#999" textLength="7.6" lengthAdjust="spacingAndGlyphs">Abc</text><rect x="845.3" y="461" width="8.4" height="0.6" fill="#999"/>
<path d="M857.2 462.3L864 456.1" stroke="#666" stroke-width="0.8"/>
<path d="M872.3 455v8.8" stroke="#555" stroke-width="0.9"/>
<path d="M880.2 457.4l3.6 4M883.8 457.4l-3.6 4" stroke="#888" stroke-width="0.8"/>
</g>
<g font-family="Liberation Sans" font-size="4.6" fill="#999">
<text x="5" y="456">TODAY:</text><text x="5" y="462.8">CHART:</text>
<text x="30" y="456">H:</text><text x="30" y="462.8">H:</text>
<text x="53" y="456">L:</text><text x="53" y="462.8">L:</text>
</g>
<g font-family="Liberation Sans" font-size="4.6" fill="#333">
<text x="36.5" y="456">2.504</text><text x="36.5" y="462.8">3.639</text>
<text x="57.5" y="456">2.406</text><text x="57.5" y="462.8">2.115</text>
</g>
<g font-family="Liberation Sans" font-size="4.6">
<text x="77.3" y="456" fill="#2a9fb0">0.027</text><text x="98" y="456" fill="#2a9fb0">1.1%</text>
<text x="77.3" y="462.8" fill="#d0414b">-1.003</text><text x="98" y="462.8" fill="#d0414b">-29.0%</text>
</g>
</svg>
</body></html>
